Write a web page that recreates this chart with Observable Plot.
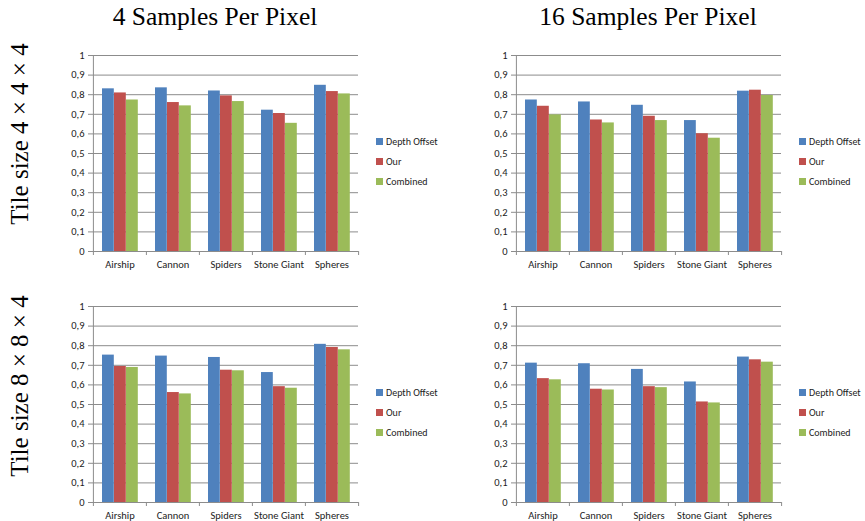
<!DOCTYPE html>
<html>
<head>
<meta charset="utf-8">
<script src="https://cdn.jsdelivr.net/npm/d3@7"></script>
<script src="https://cdn.jsdelivr.net/npm/@observablehq/plot@0.6"></script>
<style>
  html, body { margin: 0; padding: 0; background: #fff; overflow: hidden; }
  #root { position: relative; width: 865px; height: 521px; }
  .panel { position: absolute; }
  .title { position: absolute; font-family: "Liberation Serif", "DejaVu Serif", serif; font-size: 25.5px; color: #000; white-space: nowrap; transform: translateX(-50%); }
  .rowlabel { position: absolute; font-family: "Liberation Serif", "DejaVu Serif", serif; font-size: 25px; color: #000; white-space: nowrap; transform: translate(-50%, -50%) rotate(-90deg); }
  .legend { position: absolute; font-family: Carlito, Lato, "Liberation Sans", sans-serif; font-size: 10px; color: #222; }
  .legend .row { display: flex; align-items: center; height: 20px; }
  .legend .sw { width: 7px; height: 7px; margin-right: 3px; }
</style>
</head>
<body>
<div id="root"></div>
<script>
// ---- data ----
const categories = ["Airship", "Cannon", "Spiders", "Stone Giant", "Spheres"];
const series = ["Depth Offset", "Our", "Combined"];
const colors = ["#4F81BD", "#C0504D", "#9BBB59"];
const columnTitles = ["4 Samples Per Pixel", "16 Samples Per Pixel"];
const rowTitles = ["Tile size 4 \u00d7 4 \u00d7 4", "Tile size 8 \u00d7 8 \u00d7 4"];
const yTicks = [0, 0.1, 0.2, 0.3, 0.4, 0.5, 0.6, 0.7, 0.8, 0.9, 1];
const yTickLabels = ["0", "0,1", "0,2", "0,3", "0,4", "0,5", "0,6", "0,7", "0,8", "0,9", "1"];

// values per series, in category order
const tile4spp4_depth    = [0.830, 0.835, 0.819, 0.721, 0.848];
const tile4spp4_our      = [0.809, 0.760, 0.794, 0.704, 0.816];
const tile4spp4_combined = [0.773, 0.743, 0.765, 0.654, 0.804];

const tile4spp16_depth    = [0.773, 0.763, 0.746, 0.668, 0.818];
const tile4spp16_our      = [0.741, 0.671, 0.690, 0.601, 0.823];
const tile4spp16_combined = [0.697, 0.656, 0.668, 0.578, 0.796];

const tile8spp4_depth    = [0.752, 0.747, 0.740, 0.663, 0.807];
const tile8spp4_our      = [0.694, 0.561, 0.675, 0.591, 0.791];
const tile8spp4_combined = [0.689, 0.554, 0.672, 0.583, 0.779];

const tile8spp16_depth    = [0.711, 0.708, 0.679, 0.615, 0.742];
const tile8spp16_our      = [0.632, 0.578, 0.591, 0.513, 0.728];
const tile8spp16_combined = [0.626, 0.574, 0.586, 0.508, 0.716];

const panels = [
  {left: 62,  top: 45,  values: [tile4spp4_depth, tile4spp4_our, tile4spp4_combined]},
  {left: 485, top: 45,  values: [tile4spp16_depth, tile4spp16_our, tile4spp16_combined]},
  {left: 62,  top: 296, values: [tile8spp4_depth, tile8spp4_our, tile8spp4_combined]},
  {left: 485, top: 296, values: [tile8spp16_depth, tile8spp16_our, tile8spp16_combined]}
];

// ---- layout ----
const W = 300, H = 231, mL = 30, mR = 4, mT = 10, mB = 25;
const bw = (W - mL - mR) / categories.length;
const barW = 12;
const pad = 9;
const gridColor = "#8c8c8c";
const tickFont = "Carlito, Lato, 'Liberation Sans', sans-serif";

const root = document.getElementById("root");

function makeChart(p) {
  const rows = [];
  series.forEach((s, j) => categories.forEach((c, i) => rows.push({category: c, series: s, value: p.values[j][i]})));
  const marks = [
    Plot.gridY(yTicks, {stroke: gridColor, strokeOpacity: 1, strokeWidth: 1}),
    Plot.axisY(yTicks, {tickSize: 4, tickPadding: 4, tickFormat: (d) => yTickLabels[yTicks.indexOf(d)], stroke: gridColor, fill: "#222", fontSize: 10.5, fontFamily: tickFont}),
    Plot.axisX({tickSize: 0, tickPadding: 9, fontSize: 10.5, fill: "#222", fontFamily: tickFont})
  ];
  series.forEach((s, j) => {
    marks.push(Plot.barY(rows.filter(r => r.series === s), {
      x: "category", y: "value", fill: colors[j],
      insetLeft: pad + j * barW, insetRight: bw - pad - (j + 1) * barW
    }));
  });
  // axis lines
  marks.push(Plot.ruleY([0], {stroke: gridColor}));
  marks.push(Plot.ruleX([categories[0]], {x: d => d, y1: 0, y2: 1, dx: -bw / 2, stroke: gridColor}));
  // x tick marks at band boundaries
  marks.push(Plot.ruleX(categories, {x: d => d, y1: 0, y2: 0, dx: -bw / 2, insetBottom: -4, stroke: gridColor}));
  marks.push(Plot.ruleX([categories[categories.length - 1]], {x: d => d, y1: 0, y2: 0, dx: bw / 2, insetBottom: -4, stroke: gridColor}));

  const chart = Plot.plot({
    width: W, height: H,
    marginLeft: mL, marginRight: mR, marginTop: mT, marginBottom: mB,
    x: {domain: categories, padding: 0, label: null},
    y: {domain: [0, 1], label: null},
    style: {background: "transparent", overflow: "visible"},
    marks
  });
  const div = document.createElement("div");
  div.className = "panel";
  div.style.left = p.left + "px";
  div.style.top = p.top + "px";
  div.appendChild(chart);
  root.appendChild(div);
}
panels.forEach(makeChart);

// titles
const titleX = [215, 648];
columnTitles.forEach((t, i) => {
  const d = document.createElement("div");
  d.className = "title";
  d.textContent = t;
  d.style.left = titleX[i] + "px";
  d.style.top = "2px";
  root.appendChild(d);
});
const rowY = [134, 386];
rowTitles.forEach((t, i) => {
  const d = document.createElement("div");
  d.className = "rowlabel";
  d.textContent = t;
  d.style.left = "20px";
  d.style.top = rowY[i] + "px";
  root.appendChild(d);
});

// legends
const legendPos = [[376, 131], [799, 131], [376, 382], [799, 382]];
legendPos.forEach(([x, y]) => {
  const lg = document.createElement("div");
  lg.className = "legend";
  lg.style.left = x + "px";
  lg.style.top = y + "px";
  series.forEach((s, j) => {
    const r = document.createElement("div");
    r.className = "row";
    const sw = document.createElement("div");
    sw.className = "sw";
    sw.style.background = colors[j];
    const tx = document.createElement("span");
    tx.textContent = s;
    r.appendChild(sw); r.appendChild(tx);
    lg.appendChild(r);
  });
  root.appendChild(lg);
});
</script>
</body>
</html>
